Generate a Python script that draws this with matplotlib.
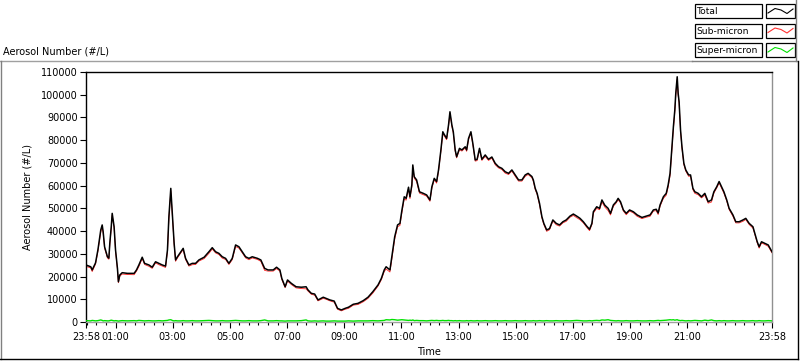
import numpy as np
import matplotlib
matplotlib.use("Agg")
import matplotlib.pyplot as plt
from matplotlib.lines import Line2D
from matplotlib.patches import Rectangle

# minutes after 23:58 (start of record)
minutes = [
    1, 10, 13, 20, 25, 31, 34, 36, 39, 45, 48, 50, 53, 55, 59, 62, 66, 68, 71, 76,
    87, 101, 106, 111, 118, 123, 132, 139, 146, 153, 160, 167, 171, 174, 178, 180, 182, 185, 188, 192,
    199, 204, 209, 216, 223, 230, 237, 248, 258, 265, 272, 279, 286, 293, 300, 307, 314, 321, 328, 335,
    342, 349, 360,
    367, 375, 382, 393, 400, 407, 411, 418, 423, 431, 441, 452, 462, 466, 473, 480, 487, 498, 504, 512,
    521, 528, 536, 544, 551, 561, 571, 582, 592, 602, 613, 620, 626, 630, 638, 642, 648, 654, 659,
    663, 668, 672, 677, 680, 684, 686, 689, 694, 700, 708, 715, 722, 726, 731, 736, 740, 745, 749, 752,
    757, 761, 764, 768, 771, 775, 778, 784, 789, 796, 799, 803, 808, 812, 817, 821, 826, 831, 838, 845,
    852, 859, 866, 873, 880, 887, 894, 901, 908, 915, 922, 928, 936, 939, 943, 947, 952, 957, 961, 967, 973,
    980, 987, 994, 1001, 1008, 1016, 1023, 1030, 1037, 1044, 1051, 1057, 1062, 1065, 1072, 1078, 1083, 1089,
    1096, 1101, 1107, 1113, 1117, 1122, 1128, 1134, 1141, 1149, 1157, 1167, 1176, 1184, 1191, 1197, 1201, 1205,
    1212, 1218, 1222, 1226, 1229, 1233, 1236, 1238, 1241, 1243, 1245, 1248, 1251, 1255, 1259, 1265, 1269, 1274,
    1278, 1285, 1292, 1299, 1306, 1313, 1318, 1324, 1329, 1334, 1339, 1345, 1350, 1358, 1364, 1371, 1379, 1385,
    1392, 1400, 1404, 1409, 1413, 1418, 1425, 1432, 1440,
]

total = [
    25000, 24300, 22900, 26000, 31700, 40500, 42700, 39700, 33100, 28700, 28100, 34700, 41900, 47800, 41900, 31700, 23600, 17700, 20700, 21700,
    21400, 21400, 22900, 25100, 28500, 25800, 25100, 24100, 26500, 25800, 25100, 24600, 31700, 46300, 58800, 52200, 44900, 34600, 27300, 28700,
    30900, 32400, 28000, 25100, 25800, 25800, 27300, 28500, 30900, 32700, 30900, 30200, 28700, 28000, 25800, 28000, 33900, 33100, 30900, 28700,
    28000, 28700, 28000,
    27300, 23600, 22900, 22900, 24100, 22900, 19200, 15500, 18500, 17000, 15500, 15300, 15500, 14100, 12600, 12300, 9700, 10900, 10400, 9700,
    9200, 6000, 5300, 6000, 6500, 7800, 8200, 9400, 10900, 13300, 16300, 19200, 22900, 24300, 22900, 28700, 37500, 42700, 43400,
    49000, 55100, 54400, 59300, 55100, 60300, 69100, 63900, 62500, 57300, 56600, 55900, 53700, 59500, 63200, 61800, 66900, 75700, 83700, 82500,
    80800, 86700, 92500, 86700, 83700, 75700, 72700, 76400, 75700, 77100, 75700, 80800, 83700, 78600, 71300, 71600, 76400, 71600, 73500, 71600,
    72600, 69800, 68300, 67600, 66100, 65400, 66900, 64700, 62500, 62500, 64700, 65400, 64000, 62500, 58800, 56600, 52200, 46300, 43400, 40500, 41100,
    44900, 43400, 42700, 44100, 44900, 46600, 47500, 46600, 45600, 44100, 42200, 40800, 43400, 48500, 50700, 50000, 53700, 51400,
    50000, 47800, 51500, 52900, 54400, 52900, 49300, 47800, 49300, 48500, 47100, 46000, 46600, 47100, 49300, 49600, 48000, 51500,
    55100, 56600, 60300, 65400, 74200, 85900, 93300, 100600, 107900, 100600, 96900, 84500, 77100, 69800, 66900, 64700, 64700, 58800,
    57300, 56600, 55100, 56600, 52900, 53700, 57300, 59500, 61800, 59500, 57300, 53700, 50000, 47100, 44100, 44100, 44900, 45600,
    43400, 41900, 39000, 35300, 33100, 35300, 34600, 33900, 30900,
]

super_micron = [
    600, 500, 700, 500, 600, 900, 700, 500, 600, 500, 500, 600, 800, 700, 500, 600, 500, 400, 500, 600,
    500, 600, 500, 700, 600, 500, 600, 500, 500, 600, 500, 600, 700, 900, 1000, 800, 600, 500, 600, 500,
    500, 600, 500, 500, 600, 500, 500, 600, 700, 600, 500, 500, 600, 500, 500, 600, 700, 600, 500, 500,
    600, 500, 500,
    600, 900, 500, 500, 600, 500, 500, 400, 500, 500, 500, 600, 900, 500, 400, 500, 400, 500, 400, 400,
    500, 400, 400, 400, 500, 400, 500, 500, 500, 600, 500, 600, 700, 1000, 900, 1100, 1000, 800, 900,
    1000, 900, 800, 700, 800, 700, 900, 600, 700, 600, 600, 500, 600, 700, 600, 700, 600, 600, 700, 600,
    600, 700, 600, 600, 500, 600, 500, 600, 500, 500, 600, 500, 600, 500, 500, 600, 500, 500, 600, 500,
    500, 600, 500, 500, 600, 500, 500, 600, 500, 500, 600, 500, 500, 600, 500, 500, 600, 500, 500, 600, 500,
    500, 600, 500, 500, 600, 500, 600, 700, 600, 500, 500, 600, 500, 600, 700, 600, 900, 800,
    1000, 700, 600, 500, 600, 500, 500, 600, 500, 500, 600, 500, 500, 600, 500, 600, 700, 600,
    700, 800, 900, 1000, 900, 1000, 800, 900, 1000, 800, 700, 600, 700, 600, 500, 600, 500, 600,
    700, 600, 500, 800, 600, 900, 600, 500, 600, 500, 600, 500, 500, 600, 500, 500, 600, 500,
    500, 600, 500, 500, 600, 500, 500, 600, 500,
]

# what is left of the total once the coarse particles are taken out
sub_micron = np.array(total) - np.array(super_micron)

tick_minutes = [0, 62, 182, 302, 422, 542, 662, 782, 902, 1022, 1142, 1262, 1440]
tick_labels = ["23:58", "01:00", "03:00", "05:00", "07:00", "09:00", "11:00",
               "13:00", "15:00", "17:00", "19:00", "21:00", "23:58"]
legend_names = ["Total", "Sub-micron", "Super-micron"]
legend_colors = ["#000000", "#ff3030", "#00e000"]

W, H = 800, 361
FS = 7


def fx(x):
    return x / W


def fy(y):
    return 1 - y / H


fig = plt.figure(figsize=(W / 100, H / 100), dpi=100)
fig.patch.set_facecolor("white")

ax = fig.add_axes([fx(86), fy(322), (772 - 86) / W, (322 - 72) / H])
ax.plot(minutes, sub_micron, color="#ff2020", lw=0.6, zorder=2)
ax.plot(minutes, total, color="black", lw=1.1, zorder=3)
ax.plot(minutes, super_micron, color="#00e000", lw=1.0, zorder=4)

ax.set_xlim(0, 1440)
ax.set_ylim(0, 110000)
ax.set_yticks(np.arange(0, 110001, 10000))
ax.set_yticklabels([str(v) for v in range(0, 110001, 10000)], fontsize=FS)
ax.set_xticks(tick_minutes)
ax.set_xticklabels(tick_labels, fontsize=FS)
minor = [m for m in range(2, 1440, 20) if m not in tick_minutes]
ax.set_xticks(minor, minor=True)
ax.tick_params(axis="y", length=4, width=0.8, pad=2)
ax.tick_params(axis="x", which="major", length=4, width=0.8, pad=3)
ax.tick_params(axis="x", which="minor", length=2.5, width=0.8)

ax.spines["left"].set_color("black")
ax.spines["top"].set_color("black")
ax.spines["right"].set_color("#909090")
ax.spines["bottom"].set_color("#a0a0a0")
for s in ax.spines.values():
    s.set_linewidth(1.0)

ax.set_ylabel("Aerosol Number (#/L)", fontsize=FS)
ax.yaxis.set_label_coords((33 - 86) / 686, 0.5)
ax.set_xlabel("Time", fontsize=FS)
ax.xaxis.set_label_coords(0.5, -(352 - 322) / 250)
ax.xaxis.label.set_va("center")

# panel frame round the graph
def fline(x0, y0, x1, y1, color, lw=1.0):
    fig.add_artist(Line2D([fx(x0), fx(x1)], [fy(y0), fy(y1)], color=color, lw=lw,
                          transform=fig.transFigure))

fline(0, 60.5, 692, 60.5, "#a0a0a0")
fline(692, 60.5, 797, 60.5, "#808080")
fline(0.8, 60.5, 0.8, 359, "#808080")
fline(0, 359, 798, 359, "black")
fline(798, 60.5, 798, 359, "black")
fline(796, 0, 796, 60.5, "#808080")

fig.text(fx(3), fy(51), "Aerosol Number (#/L)", fontsize=FS, va="center", ha="left")

# legend drawn as labelled boxes like the instrument panel
for i, (name, col) in enumerate(zip(legend_names, legend_colors)):
    top = 4 + i * 19.5
    fig.add_artist(Rectangle((fx(695), fy(top + 14)), (762 - 695) / W, 14 / H,
                             transform=fig.transFigure, fill=False, ec="black", lw=0.9))
    fig.text(fx(696.5), fy(top + 7.5), name, fontsize=6.6, va="center", ha="left")
    fig.add_artist(Rectangle((fx(766), fy(top + 14)), (795 - 766) / W, 14 / H,
                             transform=fig.transFigure, fill=False, ec="black", lw=0.9))
    zx = [768, 775, 781, 787, 793]
    zy = [top + 9, top + 4.5, top + 6, top + 9.5, top + 5]
    fig.add_artist(Line2D([fx(v) for v in zx], [fy(v) for v in zy], color=col, lw=0.8,
                          transform=fig.transFigure))

fig.savefig("out.png", dpi=100)
